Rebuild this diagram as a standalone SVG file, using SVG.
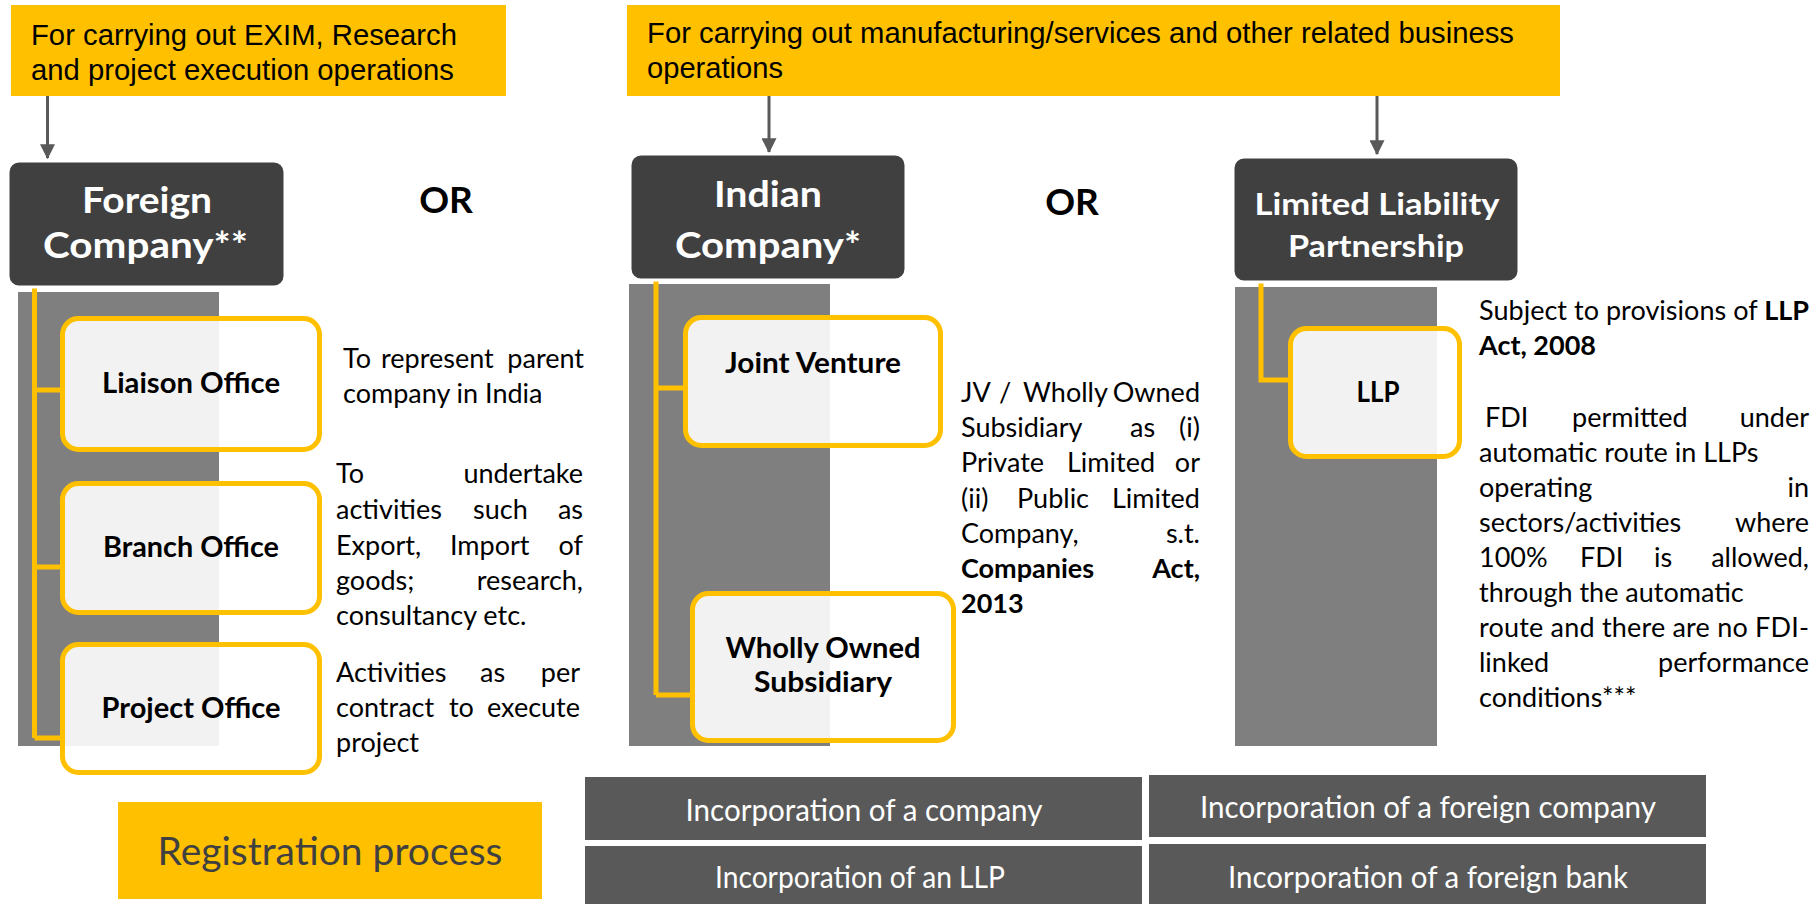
<svg xmlns="http://www.w3.org/2000/svg" width="1816" height="904" viewBox="0 0 1816 904">
<defs>
<marker id="ah" markerWidth="5" markerHeight="5" refX="4.6" refY="2.5" orient="auto" markerUnits="strokeWidth" viewBox="0 0 5 5">
<path d="M0,0 L5,2.5 L0,5 z" fill="#595959"/>
</marker>
</defs>
<style>
.ybox{fill:#FFC000}
.ytxt{font-family:"Liberation Sans",Arial,sans-serif;font-size:29px;fill:#000}
.dbox{fill:#404040;stroke:#ffffff;stroke-width:3}
.htxt{font-family:Lato,"Open Sans",sans-serif;font-weight:700;fill:#fff;text-anchor:middle}
.col{fill:#7F7F7F}
.yl{fill:none;stroke:#FFC000;stroke-width:5}
.lbox{fill:#ffffff;fill-opacity:0.9;stroke:#FFC000;stroke-width:5}
.ltxt{font-family:Lato,"Open Sans",sans-serif;font-weight:700;font-size:28px;fill:#000;text-anchor:middle}
.d{font-family:Lato,"Open Sans",sans-serif;font-size:27px;fill:#000}
.b{font-weight:700}
.e{text-anchor:end}
.or{font-family:Lato,"Open Sans",sans-serif;font-weight:700;font-size:37px;fill:#000;text-anchor:middle}
.gbox{fill:#595959}
.gtxt{font-family:Lato,"Open Sans",sans-serif;font-size:30px;fill:#fff;text-anchor:middle}
.conn{stroke:#595959;stroke-width:3;fill:none}
</style>

<g id="columns">
<rect class="col" x="18" y="292" width="201" height="454"/>
<rect class="col" x="629" y="284" width="201" height="462"/>
<rect class="col" x="1235" y="287" width="202" height="459"/>
</g>

<g id="connectors">
<line class="conn" x1="47.5" y1="96" x2="47.5" y2="158" marker-end="url(#ah)"/>
<line class="conn" x1="769" y1="88" x2="769" y2="152" marker-end="url(#ah)"/>
<line class="conn" x1="1377" y1="90" x2="1377" y2="154" marker-end="url(#ah)"/>
<path class="yl" d="M34.5,287 V738 M34.5,390 H61 M34.5,567 H61 M34.5,738 H61"/>
<path class="yl" d="M656,280 V695 M656,388 H684 M656,695 H691"/>
<path class="yl" d="M1261,282 V380 H1289"/>
</g>

<g id="purpose-exim">
<rect class="ybox" x="11" y="5" width="495" height="91"/>
<text class="ytxt" x="31" y="45" textLength="426" lengthAdjust="spacingAndGlyphs">For carrying out EXIM, Research</text>
<text class="ytxt" x="31" y="80" textLength="423" lengthAdjust="spacingAndGlyphs">and project execution operations</text>
</g>

<g id="purpose-manufacturing">
<rect class="ybox" x="627" y="5" width="933" height="91"/>
<text class="ytxt" x="647" y="43" textLength="867" lengthAdjust="spacingAndGlyphs">For carrying out manufacturing/services and other related business</text>
<text class="ytxt" x="647" y="78" textLength="136" lengthAdjust="spacingAndGlyphs">operations</text>
</g>

<g id="foreign-company">
<rect class="dbox" x="8" y="161" width="277" height="126" rx="11"/>
<text class="htxt" x="147" y="213" font-size="36" textLength="130" lengthAdjust="spacingAndGlyphs">Foreign</text>
<text class="htxt" x="145.5" y="258" font-size="36" textLength="205" lengthAdjust="spacingAndGlyphs">Company**</text>
</g>

<g id="liaison-office">
<rect class="lbox" x="62.5" y="318.5" width="257" height="131" rx="16"/>
<text class="ltxt" x="191" y="393" textLength="178" lengthAdjust="spacingAndGlyphs">Liaison Office</text>
<text class="d" x="343" y="368">To</text>
<text class="d" x="381" y="368">represent</text>
<text class="d e" x="584" y="368">parent</text>
<text class="d" x="343" y="403">company in India</text>
</g>

<g id="branch-office">
<rect class="lbox" x="62.5" y="483.5" width="257" height="129" rx="16"/>
<text class="ltxt" x="191" y="557" textLength="176" lengthAdjust="spacingAndGlyphs">Branch Office</text>
<text class="d" x="336" y="483">To</text>
<text class="d e" x="583" y="483">undertake</text>
<text class="d" x="336" y="519">activities</text>
<text class="d" x="473" y="519">such</text>
<text class="d e" x="583" y="519">as</text>
<text class="d" x="336" y="555">Export,</text>
<text class="d" x="450" y="555">Import</text>
<text class="d e" x="583" y="555">of</text>
<text class="d" x="336" y="590">goods;</text>
<text class="d e" x="583" y="590">research,</text>
<text class="d" x="336" y="625">consultancy etc.</text>
</g>

<g id="project-office">
<rect class="lbox" x="62.5" y="644.5" width="257" height="128" rx="16"/>
<text class="ltxt" x="191" y="718" textLength="179" lengthAdjust="spacingAndGlyphs">Project Office</text>
<text class="d" x="336" y="682">Activities</text>
<text class="d" x="480" y="682">as</text>
<text class="d e" x="580" y="682">per</text>
<text class="d" x="336" y="717">contract</text>
<text class="d" x="449" y="717">to</text>
<text class="d e" x="580" y="717">execute</text>
<text class="d" x="336" y="752">project</text>
</g>

<g id="or-1">
<text class="or" x="446" y="213">OR</text>
</g>

<g id="indian-company">
<rect class="dbox" x="630" y="154" width="276" height="126" rx="11"/>
<text class="htxt" x="768" y="207" font-size="36" textLength="108" lengthAdjust="spacingAndGlyphs">Indian</text>
<text class="htxt" x="768" y="258" font-size="36" textLength="186" lengthAdjust="spacingAndGlyphs">Company*</text>
</g>

<g id="joint-venture">
<rect class="lbox" x="685.5" y="317.5" width="255" height="128" rx="16"/>
<text class="ltxt" x="813" y="373" textLength="176" lengthAdjust="spacingAndGlyphs">Joint Venture</text>
</g>

<g id="wholly-owned-subsidiary">
<rect class="lbox" x="692.5" y="593.5" width="261" height="147" rx="16"/>
<text class="ltxt" x="823" y="658" textLength="195" lengthAdjust="spacingAndGlyphs">Wholly Owned</text>
<text class="ltxt" x="823" y="692" textLength="138" lengthAdjust="spacingAndGlyphs">Subsidiary</text>
</g>

<g id="jv-description">
<text class="d" x="961" y="402">JV</text>
<text class="d" x="999" y="402">/</text>
<text class="d" x="1023" y="402">Wholly</text>
<text class="d e" x="1200" y="402">Owned</text>
<text class="d" x="961" y="437">Subsidiary</text>
<text class="d" x="1130" y="437">as</text>
<text class="d e" x="1200" y="437">(i)</text>
<text class="d" x="961" y="472">Private</text>
<text class="d" x="1067" y="472">Limited</text>
<text class="d e" x="1200" y="472">or</text>
<text class="d" x="961" y="508">(ii)</text>
<text class="d" x="1017" y="508">Public</text>
<text class="d e" x="1200" y="508">Limited</text>
<text class="d" x="961" y="543">Company,</text>
<text class="d e" x="1200" y="543">s.t.</text>
<text class="d b" x="961" y="578">Companies</text>
<text class="d b e" x="1200" y="578">Act,</text>
<text class="d b" x="961" y="613">2013</text>
</g>

<g id="or-2">
<text class="or" x="1072" y="215">OR</text>
</g>

<g id="llp-company">
<rect class="dbox" x="1233" y="157" width="286" height="125" rx="11"/>
<text class="htxt" x="1377" y="215" font-size="31" textLength="245" lengthAdjust="spacingAndGlyphs">Limited Liability</text>
<text class="htxt" x="1376" y="257" font-size="31" textLength="176" lengthAdjust="spacingAndGlyphs">Partnership</text>
</g>

<g id="llp">
<rect class="lbox" x="1290.5" y="328.5" width="169" height="128" rx="16"/>
<text class="ltxt" x="1378" y="402" textLength="43" lengthAdjust="spacingAndGlyphs">LLP</text>
</g>

<g id="llp-description">
<text class="d" x="1479" y="320" textLength="330" lengthAdjust="spacing">Subject to provisions of <tspan class="b">LLP</tspan></text>
<text class="d b" x="1479" y="355">Act, 2008</text>
<text class="d" x="1485" y="427">FDI</text>
<text class="d" x="1572" y="427">permitted</text>
<text class="d e" x="1809" y="427">under</text>
<text class="d" x="1479" y="462">automatic route in LLPs</text>
<text class="d" x="1479" y="497">operating</text>
<text class="d e" x="1809" y="497">in</text>
<text class="d" x="1479" y="532">sectors/activities</text>
<text class="d e" x="1809" y="532">where</text>
<text class="d" x="1479" y="567">100%</text>
<text class="d" x="1580" y="567">FDI</text>
<text class="d" x="1654" y="567">is</text>
<text class="d e" x="1809" y="567">allowed,</text>
<text class="d" x="1479" y="602">through the automatic</text>
<text class="d" x="1479" y="637" textLength="330" lengthAdjust="spacing">route and there are no FDI-</text>
<text class="d" x="1479" y="672">linked</text>
<text class="d e" x="1809" y="672">performance</text>
<text class="d" x="1479" y="707">conditions***</text>
</g>

<g id="registration-process">
<rect class="ybox" x="118" y="802" width="424" height="97"/>
<text x="330" y="865" font-family="Lato,'Open Sans',sans-serif" font-size="39" fill="#404040" text-anchor="middle" textLength="345" lengthAdjust="spacingAndGlyphs">Registration process</text>
</g>

<g id="incorporation-company">
<rect class="gbox" x="585" y="777" width="557" height="63"/>
<text class="gtxt" x="864" y="821" textLength="357" lengthAdjust="spacingAndGlyphs">Incorporation of a company</text>
</g>

<g id="incorporation-foreign-company">
<rect class="gbox" x="1149" y="775" width="557" height="62"/>
<text class="gtxt" x="1428" y="818" textLength="456" lengthAdjust="spacingAndGlyphs">Incorporation of a foreign company</text>
</g>

<g id="incorporation-llp">
<rect class="gbox" x="585" y="846" width="557" height="58"/>
<text class="gtxt" x="860" y="888" textLength="290" lengthAdjust="spacingAndGlyphs">Incorporation of an LLP</text>
</g>

<g id="incorporation-foreign-bank">
<rect class="gbox" x="1149" y="844" width="557" height="60"/>
<text class="gtxt" x="1428" y="888" textLength="400" lengthAdjust="spacingAndGlyphs">Incorporation of a foreign bank</text>
</g>
</svg>
